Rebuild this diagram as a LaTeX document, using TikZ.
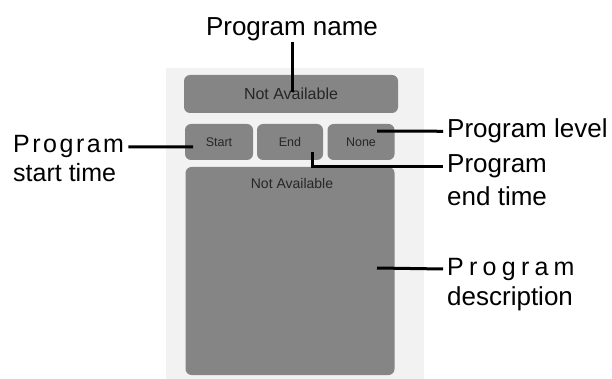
\documentclass[tikz,border=0pt]{standalone}
\usepackage{fontspec}
\setmainfont{Liberation Sans}
\begin{document}
\begin{tikzpicture}[x=1pt,y=-1pt,
                box/.style={fill=black!48,rounded corners=6pt,text=black!85,inner sep=0pt},
                lbl/.style={font=\fontsize{#1}{30}\selectfont,inner xsep=4pt,inner ysep=0pt},
                lbl/.default=26,
                spaced/.style={lbl,font=\fontsize{25}{30}\selectfont\addfontfeature{LetterSpace=#1}},
                lead/.style={line width=3pt}]
                \useasboundingbox (0,0) rectangle (612,379);
                \fill[black!5] (166,68) rectangle (424,379);
                \node[box,minimum width=214pt,minimum height=38pt,font=\fontsize{16}{18}\selectfont] (title) at (291,94) {Not Available};
                \node[box,minimum width=68pt,minimum height=36pt,font=\fontsize{12.5}{14}\selectfont] (start) at (219,142) {Start};
                \node[box,minimum width=66pt,minimum height=36pt,font=\fontsize{12.5}{14}\selectfont] (end) at (290,142) {End};
                \node[box,minimum width=67pt,minimum height=36pt,font=\fontsize{12.5}{14}\selectfont] (none) at (361,142) {None};
                \node[box,minimum width=209pt,minimum height=208pt] (desc) at (290,271) {};
                \node[text=black!85,font=\fontsize{14}{16}\selectfont,anchor=base] (desctext) at (292,189) {Not Available};
                \node[lbl,anchor=base] (pname) at (292,36) {Program name};
                \node[spaced=10,anchor=base west] (pstart) at (9,153) {Program};
                \node[lbl=25,anchor=base west] (pstart2) at (9,182) {start time};
                \node[lbl,anchor=base west] (plevel) at (443,138) {Program level};
                \node[lbl,anchor=base west] (pend) at (443,173) {Program};
                \node[lbl,anchor=base west] (pend2) at (443,205) {end time};
                \node[spaced=21,anchor=base west] (pdesc) at (443,275) {Program};
                \node[lbl,anchor=base west] (pdesc2) at (443,305) {description};
                \coordinate (namepin) at (292,92);
                \coordinate (startpin) at (193,147);
                \coordinate (levelpin) at (377,131);
                \coordinate (endpin) at (312,152);
                \coordinate (descpin) at (377,268);
                \draw[lead] (pname.south) -- (namepin);
                \draw[lead] (pstart.east) -- (startpin);
                \draw[lead] (levelpin) -- (plevel.west);
                \draw[lead] (endpin) |- (pend.west);
                \draw[lead] (descpin) -- (pdesc.west);
\end{tikzpicture}
\end{document}
